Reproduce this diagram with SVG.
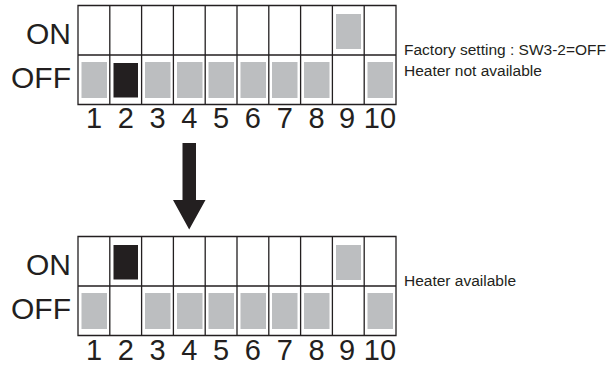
<svg xmlns="http://www.w3.org/2000/svg" width="614" height="365" viewBox="0 0 614 365">
<defs>
<style>
.grid{fill:none;stroke:#231f20;stroke-width:1.3}
.g{fill:#bcbec0}
.k{fill:#231f20}
.lbl{font-family:"Liberation Sans",Arial,sans-serif;font-size:30px;fill:#231f20}
.num{font-family:"Liberation Sans",Arial,sans-serif;font-size:29px;fill:#231f20;text-anchor:middle}
.note{font-family:"Liberation Sans",Arial,sans-serif;font-size:15.5px;fill:#231f20}
</style>
<g id="cols">
<path class="grid" d="M78,0.5H396V99.5H78Z M78,50H396 M109.8,0.5V99.5 M141.6,0.5V99.5 M173.4,0.5V99.5 M205.2,0.5V99.5 M237,0.5V99.5 M268.8,0.5V99.5 M300.6,0.5V99.5 M332.4,0.5V99.5 M364.2,0.5V99.5"/>
</g>
</defs>
<rect width="614" height="365" fill="#fff"/>
<g id="switch-before" transform="translate(0,5)">
<use href="#cols"/>
<text class="lbl" x="71" y="39" text-anchor="end">ON</text>
<text class="lbl" x="71" y="83" text-anchor="end">OFF</text>
<rect class="g" x="81.5" y="57" width="25.5" height="36"/>
<rect class="k" x="113.5" y="58" width="24.5" height="34.5"/>
<rect class="g" x="145" y="57" width="25.5" height="36"/>
<rect class="g" x="177" y="57" width="25.5" height="36"/>
<rect class="g" x="208.5" y="57" width="25.5" height="36"/>
<rect class="g" x="240.5" y="57" width="25.5" height="36"/>
<rect class="g" x="272" y="57" width="25.5" height="36"/>
<rect class="g" x="304" y="57" width="25.5" height="36"/>
<rect class="g" x="336" y="9" width="25" height="35"/>
<rect class="g" x="367.5" y="57" width="25.5" height="36"/>
<text class="num" y="123"><tspan x="94">1</tspan><tspan x="125.7">2</tspan><tspan x="157.5">3</tspan><tspan x="189.3">4</tspan><tspan x="221.1">5</tspan><tspan x="252.9">6</tspan><tspan x="284.7">7</tspan><tspan x="316.5">8</tspan><tspan x="347">9</tspan><tspan x="380">10</tspan></text>
</g>
<g id="note-before">
<text class="note" x="404" y="55">Factory setting : SW3-2=OFF</text>
<text class="note" x="404" y="75.5">Heater not available</text>
</g>
<g id="connectors">
<path id="arrow" fill="#231f20" d="M182.5,143H196V200H205.5L189.2,229.5L173,200H182.5Z"/>
</g>
<g id="switch-after" transform="translate(0,236)">
<use href="#cols"/>
<text class="lbl" x="71" y="39" text-anchor="end">ON</text>
<text class="lbl" x="71" y="83" text-anchor="end">OFF</text>
<rect class="g" x="81.5" y="57" width="25.5" height="36"/>
<rect class="k" x="113.5" y="9" width="24.5" height="34.5"/>
<rect class="g" x="145" y="57" width="25.5" height="36"/>
<rect class="g" x="177" y="57" width="25.5" height="36"/>
<rect class="g" x="208.5" y="57" width="25.5" height="36"/>
<rect class="g" x="240.5" y="57" width="25.5" height="36"/>
<rect class="g" x="272" y="57" width="25.5" height="36"/>
<rect class="g" x="304" y="57" width="25.5" height="36"/>
<rect class="g" x="336" y="9" width="25" height="35"/>
<rect class="g" x="367.5" y="57" width="25.5" height="36"/>
<text class="num" y="124"><tspan x="94">1</tspan><tspan x="125.7">2</tspan><tspan x="157.5">3</tspan><tspan x="189.3">4</tspan><tspan x="221.1">5</tspan><tspan x="252.9">6</tspan><tspan x="284.7">7</tspan><tspan x="316.5">8</tspan><tspan x="347">9</tspan><tspan x="380">10</tspan></text>
</g>
<g id="note-after">
<text class="note" x="404" y="286">Heater available</text>
</g>
</svg>
